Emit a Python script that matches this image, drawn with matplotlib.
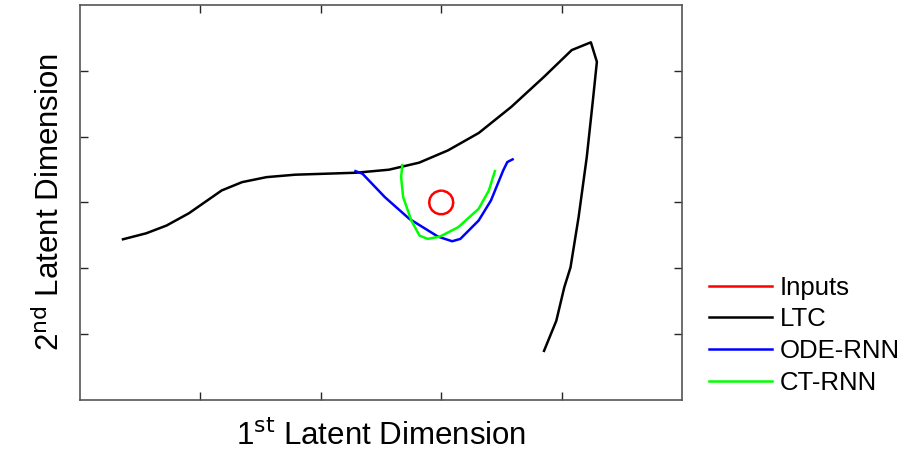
import matplotlib.pyplot as plt
import numpy as np

plt.rcParams['font.family'] = ['Liberation Sans', 'DejaVu Sans']

# latent trajectories
ltc_x = [-2.643, -2.450, -2.281, -2.095, -1.823, -1.654, -1.451, -1.214, -0.707, -0.434,
         -0.183, 0.057, 0.312, 0.582, 0.854, 1.084, 1.243, 1.293, 1.260, 1.209,
         1.141, 1.074, 1.022, 0.956, 0.854]
ltc_y = [-0.559, -0.468, -0.350, -0.163, 0.183, 0.309, 0.385, 0.422, 0.452, 0.498,
         0.605, 0.792, 1.056, 1.452, 1.909, 2.315, 2.433, 2.137, 1.554, 0.690,
         -0.224, -0.985, -1.290, -1.797, -2.254]

ode_x = [-0.712, -0.654, -0.468, -0.265, -0.027, 0.091, 0.159, 0.311, 0.413, 0.515, 0.549, 0.593]
ode_y = [0.477, 0.437, 0.081, -0.248, -0.518, -0.589, -0.553, -0.274, 0.030, 0.487, 0.614, 0.655]

ct_x = [-0.323, -0.333, -0.316, -0.248, -0.180, -0.112, -0.011, 0.141, 0.311, 0.396, 0.446]
ct_y = [0.568, 0.385, 0.081, -0.274, -0.503, -0.553, -0.518, -0.376, -0.096, 0.183, 0.477]

inp_x = [0.017, 0.050, 0.077, 0.094, 0.100, 0.094, 0.077, 0.050, 0.017, -0.017, -0.050,
         -0.077, -0.094, -0.100, -0.094, -0.077, -0.050, -0.017, -0.005]
inp_y = [0.177, 0.156, 0.116, 0.062, 0.000, -0.062, -0.116, -0.156, -0.177, -0.177, -0.156,
         -0.116, -0.062, 0.000, 0.062, 0.116, 0.156, 0.177, 0.180]

fig = plt.figure(figsize=(9.05, 4.54), dpi=100)
ax = fig.add_axes([0.0884, 0.119, 0.6652, 0.870])

ax.plot(inp_x, inp_y, color=(1, 0, 0), lw=1.8, label='Inputs')
ax.plot(ltc_x, ltc_y, color='black', lw=1.8, label='LTC')
ax.plot(ode_x, ode_y, color=(0, 0, 1), lw=1.8, label='ODE-RNN')
ax.plot(ct_x, ct_y, color=(0, 1, 0), lw=1.8, label='CT-RNN')

ax.set_xlim(-3, 2)
ax.set_ylim(-3, 3)
ax.set_xticks([-2, -1, 0, 1])
ax.set_yticks([-2, -1, 0, 1, 2])
ax.tick_params(direction='in', length=6, width=1, top=True, right=True,
               labelbottom=False, labelleft=False, color='#262626')
for s in ax.spines.values():
    s.set_color('#555555')
    s.set_linewidth(1.2)

ax.set_xlabel('1$^{\\mathrm{st}}$ Latent Dimension', fontsize=22.5, labelpad=15)
ax.set_ylabel('2$^{\\mathrm{nd}}$ Latent Dimension', fontsize=22.5, labelpad=10)

ax.legend(loc='upper left', bbox_to_anchor=(1.045, 0.315), frameon=False, fontsize=18.5,
          handlelength=2.45, handletextpad=0.3, labelspacing=0.3, borderaxespad=0,
          borderpad=0)

plt.savefig('out.png', dpi=100)
